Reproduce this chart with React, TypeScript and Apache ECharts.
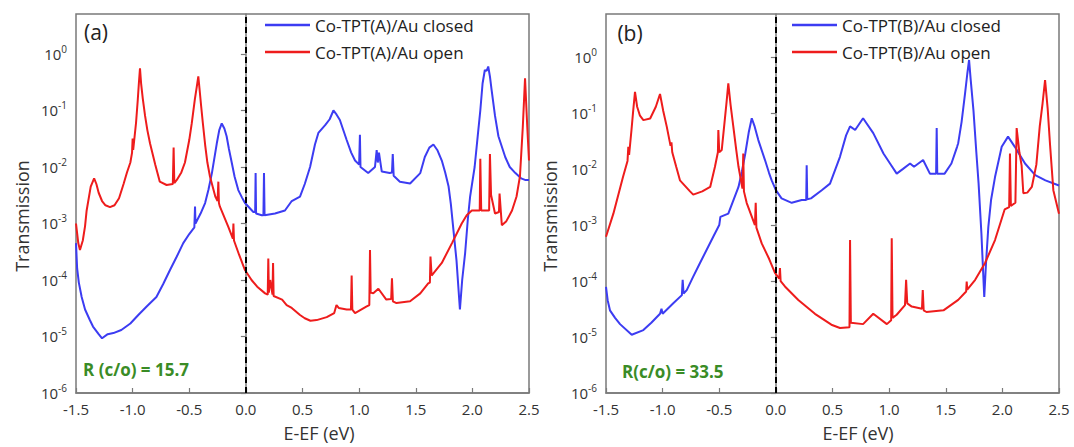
import React, { useEffect, useRef } from "react";
import * as echarts from "echarts";

// ---- data: [E - EF (eV), transmission] ----
const aClosed: [number, number][] = [
  [-1.5, 4.5e-4], [-1.49, 1.6e-4], [-1.475, 9e-5], [-1.45, 5e-5], [-1.42, 3e-5], [-1.38, 2e-5], [-1.35, 1.5e-5],
  [-1.3, 1.1e-5], [-1.27, 9.3e-6], [-1.22, 1.1e-5], [-1.17, 1.15e-5], [-1.1, 1.3e-5], [-1.02, 1.7e-5], [-0.95, 2.4e-5],
  [-0.876, 3.4e-5], [-0.79, 5e-5], [-0.73, 8.5e-5], [-0.67, 1.5e-4], [-0.61, 2.6e-4], [-0.553, 4.5e-4], [-0.5, 6.5e-4],
  [-0.455, 8.5e-4], [-0.449, 2e-3], [-0.445, 1e-3], [-0.4, 1.5e-3], [-0.36, 2.3e-3], [-0.33, 4e-3], [-0.3, 7.8e-3],
  [-0.257, 0.026], [-0.235, 0.045], [-0.213, 0.059], [-0.19, 0.048], [-0.17, 0.035], [-0.15, 0.021], [-0.125, 0.012],
  [-0.1, 6.8e-3], [-0.067, 3.9e-3], [-0.035, 2.9e-3], [-0.008, 2.3e-3], [0.066, 1.6e-3], [0.082, 1.6e-3],
  [0.086, 7.8e-3], [0.09, 1.5e-3], [0.14, 1.4e-3], [0.155, 1.4e-3], [0.16, 7.8e-3], [0.165, 1.4e-3], [0.257, 1.5e-3],
  [0.345, 1.7e-3], [0.405, 2.5e-3], [0.478, 3e-3], [0.52, 5e-3], [0.567, 0.01], [0.61, 0.025], [0.64, 0.04],
  [0.7, 0.055], [0.74, 0.07], [0.773, 0.1], [0.8, 0.085], [0.83, 0.068], [0.89, 0.03], [0.93, 0.018], [0.964, 0.013],
  [1.0, 0.011], [1.007, 0.037], [1.012, 0.01], [1.08, 7.8e-3], [1.14, 0.01], [1.155, 0.02], [1.165, 0.012],
  [1.175, 0.018], [1.2, 8.3e-3], [1.27, 7.8e-3], [1.29, 8e-3], [1.297, 0.017], [1.305, 7e-3], [1.36, 5.5e-3],
  [1.45, 5.1e-3], [1.54, 7.8e-3], [1.58, 0.015], [1.62, 0.022], [1.656, 0.025], [1.69, 0.02], [1.73, 0.013],
  [1.76, 8e-3], [1.79, 4.5e-3], [1.81, 2.2e-3], [1.83, 8.7e-4], [1.86, 2.2e-4], [1.89, 3e-5], [1.91, 1e-4],
  [1.936, 3e-4], [1.96, 1.2e-3], [1.98, 3e-3], [2.02, 0.01], [2.05, 0.04], [2.07, 0.1], [2.09, 0.3], [2.11, 0.52],
  [2.125, 0.5], [2.14, 0.6], [2.155, 0.4], [2.17, 0.23], [2.2, 0.08], [2.23, 0.035], [2.29, 0.015], [2.33, 0.01],
  [2.38, 7.8e-3], [2.43, 6.3e-3], [2.465, 5.9e-3], [2.5, 5.9e-3],
];

const aOpen: [number, number][] = [
  [-1.5, 1.0e-3], [-1.48, 4.5e-4], [-1.465, 3.4e-4], [-1.44, 5e-4], [-1.42, 9e-4], [-1.406, 1.7e-3], [-1.37, 4.5e-3],
  [-1.34, 6.3e-3], [-1.32, 5e-3], [-1.3, 3.5e-3], [-1.27, 2.5e-3], [-1.24, 2.1e-3], [-1.2, 1.95e-3], [-1.16, 2.1e-3],
  [-1.12, 2.8e-3], [-1.08, 5e-3], [-1.05, 8e-3], [-1.02, 1.2e-2], [-1.005, 1.8e-2], [-1.0, 3.2e-2], [-0.995, 2.0e-2],
  [-0.97, 6e-2], [-0.955, 0.15], [-0.945, 0.3], [-0.935, 0.56], [-0.925, 0.3], [-0.91, 0.16], [-0.89, 0.08],
  [-0.87, 0.045], [-0.846, 0.026], [-0.8, 0.011], [-0.76, 5.5e-3], [-0.7, 4.8e-3], [-0.645, 5e-3], [-0.638, 2.2e-2],
  [-0.632, 5.2e-3], [-0.61, 5.9e-3], [-0.57, 8e-3], [-0.538, 1.2e-2], [-0.5, 0.03], [-0.478, 0.059], [-0.45, 0.16],
  [-0.434, 0.26], [-0.42, 0.4], [-0.41, 0.25], [-0.395, 0.12], [-0.38, 0.06], [-0.36, 0.025], [-0.34, 0.012],
  [-0.317, 6.8e-3], [-0.27, 3e-3], [-0.25, 2.5e-3], [-0.243, 5.5e-3], [-0.238, 2.3e-3], [-0.23, 2e-3],
  [-0.155, 8.7e-4], [-0.115, 5.4e-4], [-0.11, 1e-3], [-0.105, 5e-4], [-0.06, 2.8e-4], [-0.008, 1.5e-4], [0.05, 1e-4],
  [0.1, 7.6e-5], [0.17, 5.8e-5], [0.193, 5.5e-5], [0.198, 2.4e-4], [0.203, 6e-5], [0.215, 1e-4], [0.235, 5.5e-5],
  [0.24, 2e-4], [0.245, 5.2e-5], [0.32, 4.5e-5], [0.36, 3.6e-5], [0.405, 3.2e-5], [0.478, 2.4e-5], [0.52, 2.1e-5],
  [0.57, 1.9e-5], [0.625, 1.95e-5], [0.714, 2.2e-5], [0.78, 2.6e-5], [0.8, 3.6e-5], [0.82, 3.2e-5], [0.89, 3e-5],
  [0.928, 3e-5], [0.934, 1.2e-4], [0.94, 3e-5], [0.964, 2.6e-5], [1.067, 3.4e-5], [1.09, 3.6e-5], [1.096, 3.4e-4],
  [1.102, 6e-5], [1.125, 5.8e-5], [1.17, 7e-5], [1.24, 4.5e-5], [1.283, 4.6e-5], [1.29, 1.07e-4], [1.298, 4.2e-5],
  [1.33, 3.9e-5], [1.45, 4.2e-5], [1.54, 5.8e-5], [1.61, 8.7e-5], [1.625, 9e-5], [1.63, 2.6e-4], [1.64, 1.2e-4],
  [1.73, 2e-4], [1.82, 4.5e-4], [1.906, 1e-3], [1.95, 1.4e-3], [1.995, 1.7e-3], [2.065, 1.7e-3], [2.07, 1.4e-2],
  [2.078, 1.7e-3], [2.148, 1.7e-3], [2.155, 1.7e-2], [2.165, 3.2e-3], [2.2, 1.5e-3], [2.235, 1.6e-3], [2.24, 3.4e-3],
  [2.26, 9.3e-4], [2.3, 1.1e-3], [2.35, 1.7e-3], [2.39, 3e-3], [2.42, 6.8e-3], [2.445, 0.05], [2.465, 0.37],
  [2.485, 0.05], [2.5, 1.3e-2],
];

const bClosed: [number, number][] = [
  [-1.5, 7.9e-5], [-1.485, 4.5e-5], [-1.465, 3e-5], [-1.42, 2.2e-5], [-1.376, 1.7e-5], [-1.273, 1.1e-5],
  [-1.17, 1.33e-5], [-1.1, 1.8e-5], [-1.023, 2.6e-5], [-1.01, 3.2e-5], [-1.0, 2.6e-5], [-0.906, 4e-5], [-0.83, 5.6e-5],
  [-0.823, 1.05e-4], [-0.815, 6e-5], [-0.787, 6.9e-5], [-0.73, 1.2e-4], [-0.67, 2.1e-4], [-0.553, 6.2e-4],
  [-0.5, 1e-3], [-0.49, 1.4e-3], [-0.42, 1.6e-3], [-0.33, 4.8e-3], [-0.3, 9e-3], [-0.27, 0.019], [-0.24, 0.045],
  [-0.213, 0.081], [-0.19, 0.06], [-0.155, 0.033], [-0.096, 0.0145], [-0.06, 8.5e-3], [-0.037, 6.3e-3], [0.0, 4.2e-3],
  [0.05, 3e-3], [0.14, 2.5e-3], [0.228, 2.8e-3], [0.268, 2.8e-3], [0.272, 0.0117], [0.277, 2.9e-3], [0.31, 3e-3],
  [0.405, 4.2e-3], [0.478, 5.5e-3], [0.566, 0.0166], [0.62, 0.04], [0.655, 0.058], [0.7, 0.05], [0.77, 0.081],
  [0.86, 0.044], [0.95, 0.019], [1.008, 0.0126], [1.067, 8.3e-3], [1.12, 0.01], [1.185, 0.0126], [1.22, 0.011],
  [1.3, 0.0145], [1.36, 8.3e-3], [1.415, 8.3e-3], [1.42, 0.054], [1.425, 8.3e-3], [1.49, 8.3e-3], [1.55, 0.0126],
  [1.6, 0.025], [1.61, 0.029], [1.64, 0.07], [1.67, 0.22], [1.69, 0.5], [1.706, 0.89], [1.72, 0.4], [1.745, 0.11],
  [1.77, 0.02], [1.79, 5.5e-3], [1.815, 7e-4], [1.84, 5.2e-5], [1.855, 2e-4], [1.876, 9.3e-4], [1.9, 2.8e-3],
  [1.935, 7.2e-3], [1.994, 0.025], [2.05, 0.038], [2.11, 0.025], [2.2, 0.0126], [2.29, 7.8e-3], [2.38, 6.3e-3],
  [2.5, 5.1e-3],
];

const bOpen: [number, number][] = [
  [-1.5, 6.2e-4], [-1.435, 1.6e-3], [-1.35, 7.2e-3], [-1.31, 0.014], [-1.303, 0.025], [-1.296, 0.018], [-1.275, 0.05],
  [-1.26, 0.11], [-1.244, 0.24], [-1.225, 0.13], [-1.2, 0.09], [-1.17, 0.075], [-1.11, 0.08], [-1.06, 0.13],
  [-1.023, 0.22], [-0.995, 0.11], [-0.964, 0.058], [-0.93, 0.026], [-0.922, 0.03], [-0.915, 0.02], [-0.88, 0.011],
  [-0.847, 6.3e-3], [-0.758, 4e-3], [-0.73, 3.5e-3], [-0.65, 4e-3], [-0.58, 4.8e-3], [-0.538, 0.011], [-0.512, 0.02],
  [-0.508, 0.05], [-0.5, 0.02], [-0.478, 0.022], [-0.45, 0.08], [-0.435, 0.16], [-0.42, 0.34], [-0.4, 0.14],
  [-0.376, 0.058], [-0.35, 0.022], [-0.33, 0.011], [-0.295, 4.5e-3], [-0.288, 0.019], [-0.282, 4e-3], [-0.258, 2.5e-3],
  [-0.185, 1e-3], [-0.178, 2.5e-3], [-0.172, 9e-4], [-0.125, 4.7e-4], [-0.06, 2.5e-4], [-0.008, 1.4e-4], [0.03, 1.1e-4],
  [0.036, 1.7e-4], [0.042, 1e-4], [0.08, 8e-5], [0.198, 4.6e-5], [0.345, 2.6e-5], [0.49, 1.66e-5], [0.566, 1.45e-5],
  [0.65, 1.5e-5], [0.655, 5.4e-4], [0.662, 1.8e-5], [0.77, 1.7e-5], [0.86, 2.6e-5], [0.98, 1.7e-5], [1.018, 2e-5],
  [1.023, 5.8e-4], [1.03, 2.2e-5], [1.067, 2.5e-5], [1.14, 3.7e-5], [1.15, 1.05e-4], [1.16, 4e-5], [1.2, 3.5e-5],
  [1.29, 3.2e-5], [1.297, 6.9e-5], [1.305, 3e-5], [1.33, 2.8e-5], [1.48, 3e-5], [1.61, 4.6e-5], [1.68, 6.5e-5],
  [1.685, 9.8e-5], [1.69, 7e-5], [1.76, 1.05e-4], [1.847, 2.1e-4], [1.935, 5.4e-4], [2.02, 1.9e-3], [2.06, 2.1e-3],
  [2.067, 0.019], [2.075, 2.2e-3], [2.115, 2.5e-3], [2.126, 0.054], [2.15, 0.02], [2.17, 0.0115], [2.185, 3.7e-3],
  [2.22, 3.8e-3], [2.26, 4.8e-3], [2.3, 0.012], [2.33, 0.058], [2.355, 0.15], [2.377, 0.39], [2.4, 0.12], [2.42, 0.029],
  [2.45, 4.2e-3], [2.5, 1.6e-3],
];

const seriesNames = [
  "Co-TPT(A)/Au closed",
  "Co-TPT(A)/Au open",
  "Co-TPT(B)/Au closed",
  "Co-TPT(B)/Au open",
];
const panelLabels = ["(a)", "(b)"];
const ratioLabels = ["R (c/o) = 15.7", "R(c/o) = 33.5"];
const yTickValues = [1e-6, 1e-5, 1e-4, 1e-3, 1e-2, 1e-1, 1];
const yMax = [5.1, 5.9];
const xTitle = "E-EF (eV)";
const yTitle = "Transmission";

const BLUE = "#3c3cf2";
const RED = "#ee1c1c";
const FRAME = "#7a7a7a";
const FONT = "Open Sans";

export default function App() {
  const ref = useRef<HTMLDivElement>(null);
  useEffect(() => {
    if (!ref.current) return;
    const chart = echarts.init(ref.current, undefined, { renderer: "svg" });
    const grids = [
      { left: 76, top: 14, width: 453, height: 379 },
      { left: 606, top: 14, width: 453, height: 379 },
    ];
    const xAxis = [0, 1].map((i) => ({
      type: "value",
      gridIndex: i,
      min: -1.5,
      max: 2.5,
      interval: 0.5,
      axisLine: { show: true, lineStyle: { color: FRAME, width: 1.5 } },
      axisTick: { show: true, inside: true, length: 5, lineStyle: { color: FRAME, width: 1.2 } },
      axisLabel: {
        margin: 8,
        fontSize: 15,
        fontFamily: FONT,
        color: "#333",
        formatter: (v: number) => v.toFixed(1),
      },
      splitLine: { show: false },
    }));
    const yAxis = [0, 1].map((i) => ({
      type: "log",
      gridIndex: i,
      min: 1e-6,
      max: yMax[i],
      logBase: 10,
      axisLine: { show: true, lineStyle: { color: FRAME, width: 1.5 } },
      axisTick: {
        show: true,
        inside: false,
        length: 5,
        lineStyle: { color: FRAME, width: 1.2 },
        customValues: yTickValues,
      },
      axisLabel: {
        margin: 9,
        fontFamily: FONT,
        color: "#333",
        customValues: yTickValues,
        formatter: (v: number) => {
          const e = Math.log10(v);
          const r = Math.round(e);
          if (Math.abs(e - r) > 1e-6) return "";
          return "{b|10}{s|" + r + "}";
        },
        rich: {
          b: { fontSize: 15, fontFamily: FONT, color: "#333", lineHeight: 22 },
          s: { fontSize: 10, fontFamily: FONT, color: "#333", lineHeight: 12, padding: [0, 0, 10, 0] },
        },
      },
      splitLine: { show: false },
    }));
    const mk = (name: string, data: [number, number][], color: string, idx: number, withMark: boolean) => ({
      name,
      type: "line",
      xAxisIndex: idx,
      yAxisIndex: idx,
      data,
      showSymbol: false,
      symbol: "none",
      color,
      lineStyle: { color, width: 2 },
      z: color === RED ? 3 : 2,
      markLine: withMark
        ? {
            silent: true,
            symbol: ["none", "none"],
            label: { show: false },
            lineStyle: { color: "#000", type: [6, 4], width: 2 },
            data: [{ xAxis: 0 }],
          }
        : undefined,
    });
    const legendCommon = {
      orient: "vertical",
      top: 15,
      icon: "rect",
      itemWidth: 45,
      itemHeight: 2.5,
      itemGap: 7,
      padding: 0,
      textStyle: { fontSize: 17, fontFamily: FONT, color: "#222", lineHeight: 20 },
    };
    const texts: any[] = [];
    const ax = [22, 550];
    const xt = [319, 858];
    const pl = [[96, 32], [630, 33]];
    const rl = [[83, 369], [622, 371]];
    [0, 1].forEach((i) => {
      texts.push({
        type: "text",
        x: ax[i],
        y: 216,
        rotation: Math.PI / 2,
        style: { text: yTitle, fontSize: 18, fontFamily: FONT, fill: "#333", align: "center", verticalAlign: "middle" },
      });
      texts.push({
        type: "text",
        x: xt[i],
        y: 433,
        style: { text: xTitle, fontSize: 18, fontFamily: FONT, fill: "#333", align: "center", verticalAlign: "middle" },
      });
      texts.push({
        type: "text",
        x: pl[i][0],
        y: pl[i][1],
        style: { text: panelLabels[i], fontSize: 21, fontFamily: FONT, fill: "#222", align: "center", verticalAlign: "middle" },
      });
      texts.push({
        type: "text",
        x: rl[i][0],
        y: rl[i][1],
        style: {
          text: ratioLabels[i],
          fontSize: 17,
          fontWeight: "bold",
          fontFamily: FONT,
          fill: "#3a8c26",
          align: "left",
          verticalAlign: "middle",
        },
      });
    });
    chart.setOption({
      animation: false,
      backgroundColor: "#fff",
      grid: grids.map((g) => ({ ...g, show: true, borderColor: FRAME, borderWidth: 1.5, backgroundColor: "transparent" })),
      xAxis,
      yAxis,
      legend: [
        { ...legendCommon, left: 265, data: [seriesNames[0], seriesNames[1]] },
        { ...legendCommon, left: 792, data: [seriesNames[2], seriesNames[3]] },
      ],
      series: [
        mk(seriesNames[0], aClosed, BLUE, 0, true),
        mk(seriesNames[1], aOpen, RED, 0, false),
        mk(seriesNames[2], bClosed, BLUE, 1, true),
        mk(seriesNames[3], bOpen, RED, 1, false),
      ],
      graphic: texts,
    });
    return () => chart.dispose();
  }, []);
  return (
    <div
      ref={ref}
      style={{ position: "fixed", left: 0, top: 0, width: 1074, height: 447, background: "#fff" }}
    />
  );
}
